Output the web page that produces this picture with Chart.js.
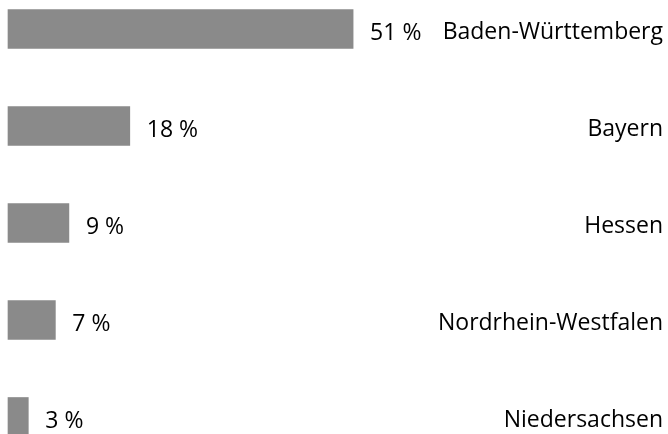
<!DOCTYPE html>
<html>
<head>
<meta charset="utf-8">
<script src="https://cdn.jsdelivr.net/npm/chart.js@4"></script>
<style>
  html, body { margin: 0; padding: 0; background: #fff; overflow: hidden; }
</style>
</head>
<body>
<canvas id="chart" width="668" height="434"></canvas>
<script>
const states = ['Baden-Württemberg', 'Bayern', 'Hessen', 'Nordrhein-Westfalen', 'Niedersachsen'];
const shares = [51, 18, 9, 7, 3];

const FONT = '"Open Sans", sans-serif';
const FONT_SIZE = 23;

// Draw "xx %" just after the end of each bar
const valueLabels = {
    id: 'valueLabels',
    afterDatasetsDraw(chart) {
        const ctx = chart.ctx;
        const meta = chart.getDatasetMeta(0);
        ctx.save();
        ctx.font = FONT_SIZE + 'px ' + FONT;
        ctx.fillStyle = '#000';
        ctx.textAlign = 'left';
        ctx.textBaseline = 'alphabetic';
        meta.data.forEach((bar, i) => {
            // baseline so the digits sit centred on the bar
            ctx.fillText(shares[i] + ' %', bar.x + 17, bar.y + 11);
        });
        ctx.restore();
    }
};

new Chart(document.getElementById('chart'), {
    type: 'bar',
    data: {
        labels: states,
        datasets: [{
            data: shares,
            backgroundColor: '#8a8a8a',
            barThickness: 39,
            clip: false
        }]
    },
    options: {
        indexAxis: 'y',
        responsive: false,
        animation: false,
        layout: { padding: { left: 8, top: 29, bottom: 17, right: 5 } },
        plugins: { legend: { display: false }, tooltip: { enabled: false } },
        scales: {
            x: { display: false, min: 0, max: 60 },
            y: {
                position: 'right',
                offset: false,
                grid: { display: false },
                border: { display: false },
                afterFit: (scale) => { scale.width = 249; },
                ticks: {
                    crossAlign: 'far',
                    labelOffset: 3,
                    padding: 0,
                    color: '#000',
                    font: { family: FONT, size: FONT_SIZE }
                }
            }
        }
    },
    plugins: [valueLabels]
});
</script>
</body>
</html>
